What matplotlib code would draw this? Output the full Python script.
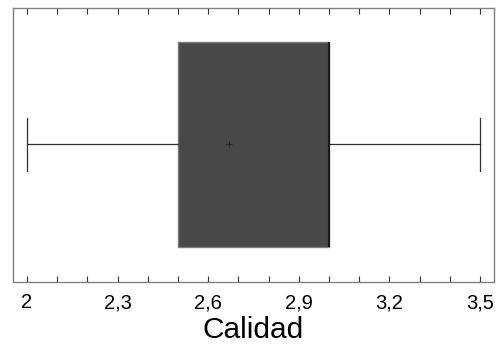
import matplotlib
matplotlib.use("Agg")
import matplotlib.pyplot as plt
from matplotlib.ticker import MultipleLocator, FuncFormatter

plt.rcParams['font.family'] = ['Liberation Sans', 'DejaVu Sans']

label = "Calidad"
whisker_low = 2.0
q1 = 2.5
median = 3.0
q3 = 3.0
whisker_high = 3.5
mean = 2.67
major_ticks = [2.0, 2.3, 2.6, 2.9, 3.2, 3.5]

fig = plt.figure(figsize=(5.01, 3.51), dpi=100)
ax = fig.add_axes([0.026, 0.1966, 0.960, 0.7806])

stats = [dict(whislo=whisker_low, q1=q1, med=median, q3=q3, whishi=whisker_high,
              mean=mean, fliers=[], label=label)]
ax.bxp(stats, positions=[0.502], widths=[0.748], capwidths=[0.194], vert=False,
       patch_artist=True, showmeans=True, showfliers=False,
       boxprops=dict(facecolor='#484848', edgecolor='#7a7a7a', linewidth=1),
       medianprops=dict(color='#1a1a1a', linewidth=1.5),
       whiskerprops=dict(color='#303030', linewidth=0.9),
       capprops=dict(color='#303030', linewidth=0.9),
       meanprops=dict(marker='+', markeredgecolor='#2a2a2a', markersize=5, markeredgewidth=0.8))

ax.set_ylim(0, 1)
ax.set_xlim(1.9536, 3.546)
ax.set_yticks([])
ax.xaxis.set_major_locator(plt.FixedLocator(major_ticks))
ax.xaxis.set_minor_locator(MultipleLocator(0.1))
ax.xaxis.set_major_formatter(FuncFormatter(lambda v, p: f"{v:g}".replace('.', ',')))
ax.tick_params(axis='x', which='both', direction='in', top=True, bottom=True,
               length=4, width=0.8, color='#333333', labelsize=14.5, pad=8)
for s in ax.spines.values():
    s.set_color('#808080')
    s.set_linewidth(1)
ax.set_xlabel(label, fontsize=21.5, labelpad=3)

fig.savefig("out.png", dpi=100)
